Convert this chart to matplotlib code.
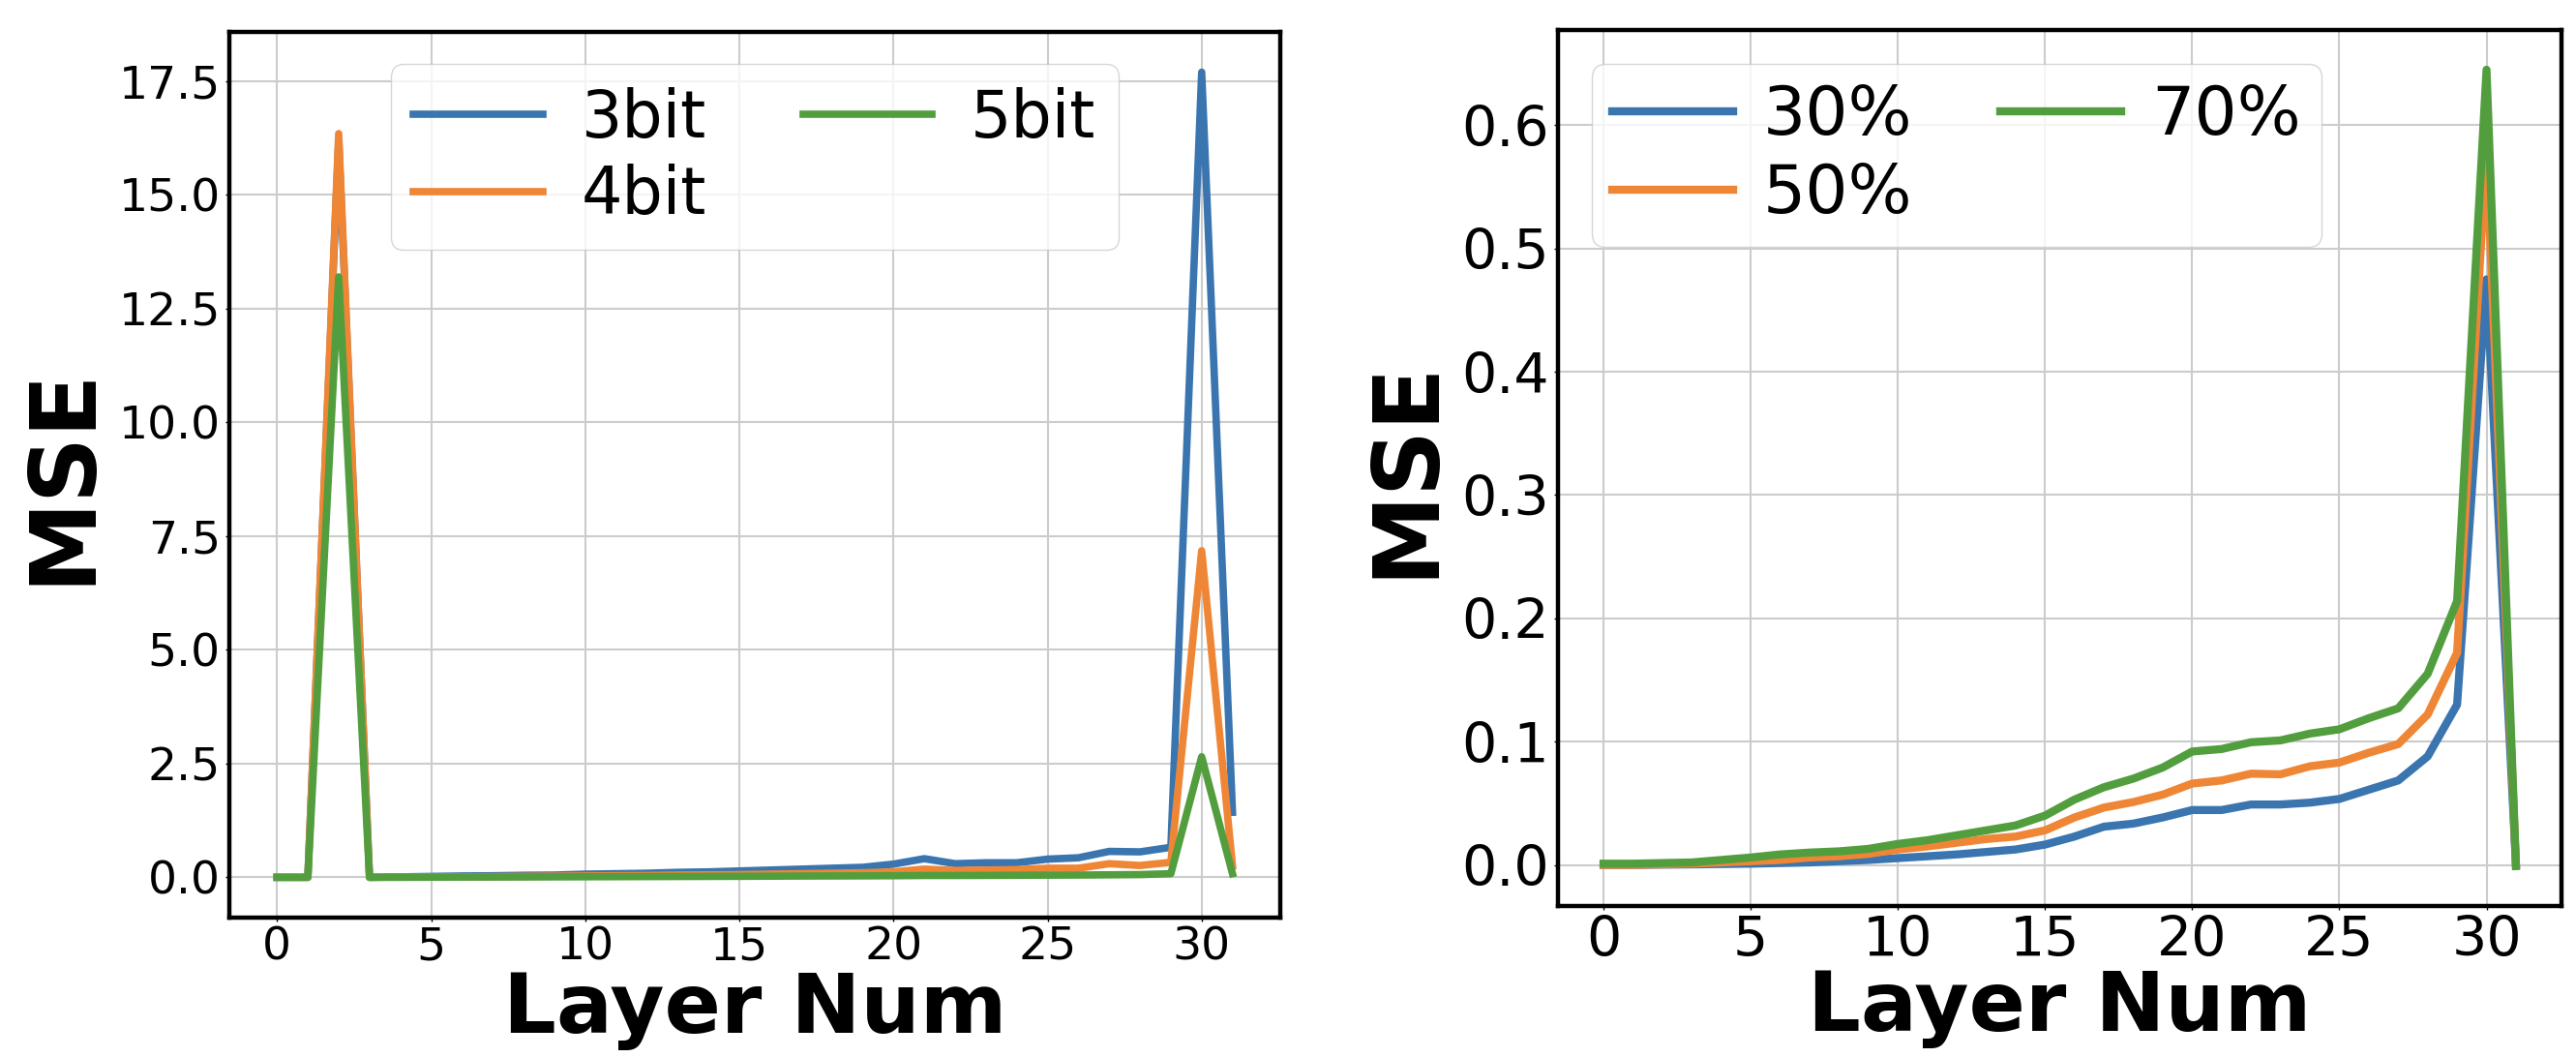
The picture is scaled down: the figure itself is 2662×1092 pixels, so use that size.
import numpy as np
import matplotlib
matplotlib.use("Agg")
import matplotlib.pyplot as plt

plt.rcParams["font.family"] = "DejaVu Sans"

layers = list(range(32))

# left panel: MSE per layer for different bit widths
mse_3bit = [0, 0, 16.2, 0, 0.01, 0.02, 0.03, 0.035, 0.045, 0.05,
            0.07, 0.08, 0.09, 0.11, 0.12, 0.14, 0.16, 0.18, 0.2, 0.22,
            0.29, 0.41, 0.30, 0.32, 0.32, 0.40, 0.43, 0.57, 0.56, 0.66,
            17.7, 1.43]
mse_4bit = [0, 0, 16.35, 0, 0.005, 0.01, 0.01, 0.015, 0.02, 0.025,
            0.03, 0.035, 0.04, 0.05, 0.055, 0.06, 0.07, 0.08, 0.09, 0.1,
            0.12, 0.18, 0.15, 0.16, 0.17, 0.2, 0.2, 0.3, 0.26, 0.33,
            7.18, 0.25]
mse_5bit = [0, 0, 13.2, 0, 0, 0.003, 0.005, 0.006, 0.008, 0.01,
            0.012, 0.014, 0.016, 0.018, 0.02, 0.022, 0.025, 0.028, 0.03, 0.032,
            0.035, 0.04, 0.04, 0.042, 0.045, 0.048, 0.05, 0.055, 0.06, 0.08,
            2.65, 0.08]

# right panel: MSE per layer for different ratios
mse_30 = [0, 0, 0.0002, 0.0004, 0.0007, 0.001, 0.0015, 0.002, 0.003, 0.004,
          0.0055, 0.007, 0.0085, 0.0105, 0.0125, 0.0165, 0.023, 0.031, 0.0335, 0.0385,
          0.0445, 0.0445, 0.049, 0.049, 0.0505, 0.0535, 0.061, 0.0685, 0.088, 0.130,
          0.475, 0.0]
mse_50 = [0, 0, 0.0005, 0.001, 0.002, 0.003, 0.004, 0.006, 0.007, 0.009,
          0.0125, 0.015, 0.018, 0.021, 0.023, 0.028, 0.0385, 0.0465, 0.051, 0.057,
          0.066, 0.0685, 0.074, 0.0735, 0.080, 0.083, 0.091, 0.098, 0.122, 0.172,
          0.58, 0.0]
mse_70 = [0.001, 0.001, 0.0015, 0.002, 0.004, 0.006, 0.0085, 0.010, 0.011, 0.013,
          0.017, 0.020, 0.024, 0.028, 0.032, 0.040, 0.053, 0.063, 0.070, 0.079,
          0.092, 0.094, 0.0995, 0.101, 0.1065, 0.110, 0.119, 0.127, 0.155, 0.214,
          0.645, -0.001]

blue = "#3a75af"
orange = "#ef8636"
green = "#529e3e"

fig = plt.figure(figsize=(26.62, 10.92), dpi=100)
ax1 = fig.add_axes([0.0890, 0.1319, 0.4080, 0.8379])
ax2 = fig.add_axes([0.6048, 0.1429, 0.3896, 0.8288])

ax1.plot(layers, mse_3bit, color=blue, lw=5.5, label="3bit")
ax1.plot(layers, mse_4bit, color=orange, lw=5.5, label="4bit")
ax1.plot(layers, mse_5bit, color=green, lw=5.5, label="5bit")
ax1.set_yticks([0, 2.5, 5, 7.5, 10, 12.5, 15, 17.5])
ax1.legend(loc="upper center", ncol=2, fontsize=48, columnspacing=1.5,
           handlelength=2.0, handletextpad=0.6, labelspacing=0.2,
           borderpad=0.35)

ax2.plot(layers, mse_30, color=blue, lw=6, label="30%")
ax2.plot(layers, mse_50, color=orange, lw=6, label="50%")
ax2.plot(layers, mse_70, color=green, lw=6, label="70%")
ax2.set_yticks([0, 0.1, 0.2, 0.3, 0.4, 0.5, 0.6])
ax2.legend(loc="upper left", ncol=2, fontsize=50, columnspacing=1.3,
           handlelength=1.8, handletextpad=0.45, labelspacing=0.2,
           borderpad=0.3)

for ax, fs in [(ax1, 34), (ax2, 41)]:
    ax.grid(True, color="#cccccc", lw=1.5)
    ax.set_axisbelow(True)
    ax.set_xticks([0, 5, 10, 15, 20, 25, 30])
    ax.tick_params(labelsize=fs, length=3, width=1)
    for s in ax.spines.values():
        s.set_linewidth(3.2)
        s.set_color("black")
    ax.set_xlabel("Layer Num", fontsize=62, fontweight="bold", labelpad=0)
    ax.set_ylabel("MSE", fontsize=68, fontweight="bold", labelpad=8)

plt.savefig("out.png", dpi=100)
plt.close()
